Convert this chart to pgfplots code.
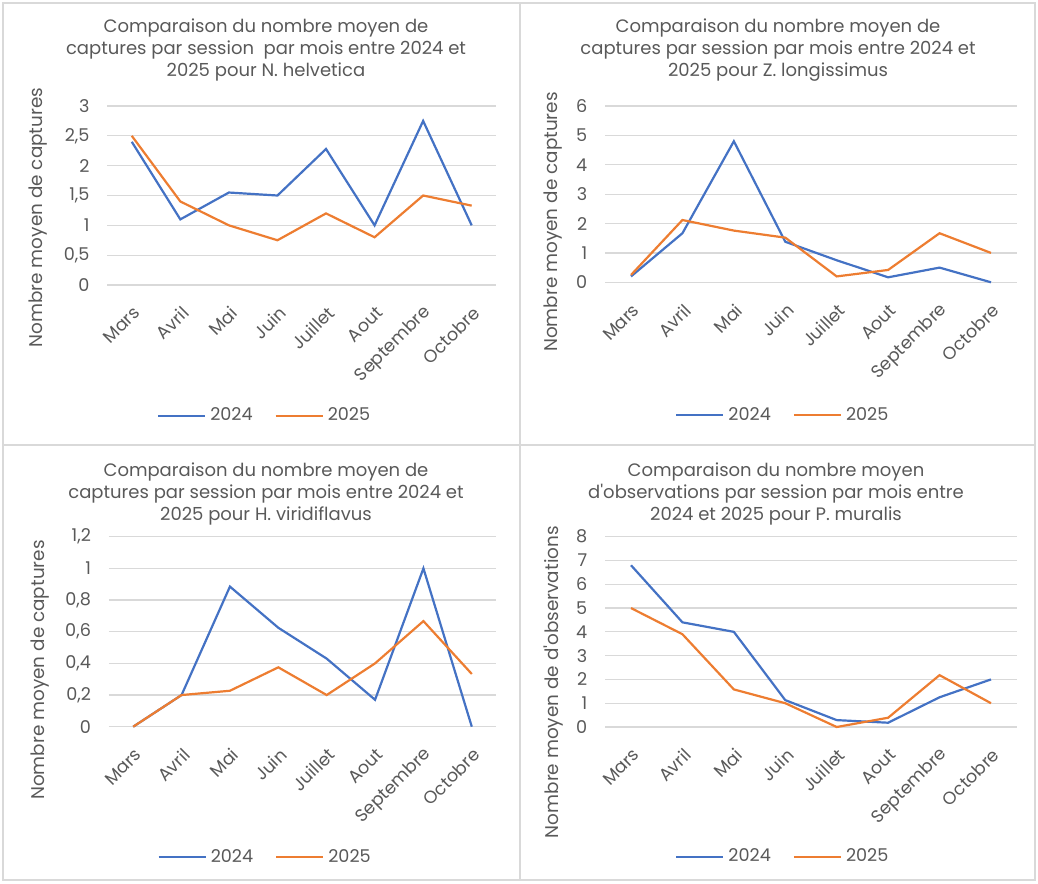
\documentclass[border=0pt]{standalone}
\usepackage{pgfplots}
\pgfplotsset{compat=1.18}
\usepackage{fontspec}
\setmainfont{Poppins}[Ligatures=TeXOff]
\definecolor{b24}{HTML}{4472C4}
\definecolor{o25}{HTML}{ED7D31}
\definecolor{gridc}{HTML}{D9D9D9}
\definecolor{txt}{HTML}{595959}
\pgfplotsset{
 panel/.style={
  scale only axis, anchor=south west, clip=false,
  xmin=-0.5, xmax=7.5, xtick={0,...,7},
  xticklabels={Mars,Avril,Mai,Juin,Juillet,Aout,Septembre,Octobre},
  ymin=0, axis line style={draw=none}, major tick length=0pt,
  ymajorgrids, grid style={gridc, line width=0.6pt},
  tick label style={font=\fontsize{8.8}{10}\selectfont, text=txt},
  /pgf/number format/assume math mode=true,
  /pgf/number format/use comma,
  yticklabel style={xshift=-5.5pt},
  xticklabel style={xshift=5pt, yshift=-10pt, rotate=45, anchor=east},
  legend columns=2,
  legend style={draw=none, fill=none, font=\fontsize{8.8}{10}\selectfont, text=txt, anchor=center,
    /tikz/every even column/.append style={column sep=9pt}},
  legend image code/.code={\draw[##1] (0pt,0pt) -- (23.5pt,0pt);},
 },
 s24/.style={b24, line width=1.1pt},
 s25/.style={o25, line width=1.1pt},
}
\newcommand{\ylab}[3]{\node[rotate=90, font=\fontsize{9.2}{11}\selectfont, text=txt] at (rel axis cs:#1,#2) {#3};}
\begin{document}
\begin{tikzpicture}
\path (0pt,0pt) rectangle (519pt,-441.5pt);
\draw[gridc, line width=0.6pt] (1.5pt,-1.5pt) rectangle (260pt,-222.5pt);
\draw[gridc, line width=0.6pt] (260pt,-1.5pt) rectangle (517.5pt,-222.5pt);
\draw[gridc, line width=0.6pt] (1.5pt,-222.5pt) rectangle (260pt,-440pt);
\draw[gridc, line width=0.6pt] (260pt,-222.5pt) rectangle (517.5pt,-440pt);
\begin{scope}[every node/.style={align=center, font=\fontsize{9}{11}\selectfont, text=txt}]
\node at (133pt,-25pt) {Comparaison du nombre moyen de\\captures par session\ \ par mois entre 2024 et\\2025 pour N. helvetica};
\node at (389pt,-25pt) {Comparaison du nombre moyen de\\captures par session par mois entre 2024 et\\2025 pour Z. longissimus};
\node at (133pt,-247pt) {Comparaison du nombre moyen de\\captures par session par mois entre 2024 et\\2025 pour H. viridiflavus};
\node at (388pt,-247pt) {Comparaison du nombre moyen\\d'observations par session par mois entre\\2024 et 2025 pour P. muralis};
\end{scope}
% Panel 1
\begin{axis}[panel, at={(53.75pt,-142.5pt)}, width=194.25pt, height=89.5pt,
  ymax=3, ytick={0,0.5,1,1.5,2,2.5,3},
  legend style={at={(0.407,-0.730)}}]
\addplot[s24] coordinates {(0,2.4) (1,1.1) (2,1.55) (3,1.5) (4,2.28) (5,1) (6,2.75) (7,1)};
\addplot[s25] coordinates {(0,2.5) (1,1.4) (2,1) (3,0.75) (4,1.2) (5,0.8) (6,1.5) (7,1.33)};
\legend{2024,2025}
\ylab{-0.179}{0.377}{Nombre moyen de captures}
\end{axis}
% Panel 2
\begin{axis}[panel, at={(302.65pt,-141.15pt)}, width=205.7pt, height=88.15pt,
  ymax=6, ytick={0,1,2,3,4,5,6},
  legend style={at={(0.434,-0.753)}}]
\addplot[s24] coordinates {(0,0.2) (1,1.67) (2,4.8) (3,1.38) (4,0.75) (5,0.17) (6,0.5) (7,0)};
\addplot[s25] coordinates {(0,0.25) (1,2.12) (2,1.76) (3,1.52) (4,0.2) (5,0.42) (6,1.67) (7,1)};
\legend{2024,2025}
\ylab{-0.127}{0.342}{Nombre moyen de captures}
\end{axis}
% Panel 3
\begin{axis}[panel, at={(54.5pt,-363.35pt)}, width=193.5pt, height=95pt,
  ymax=1.2, ytick={0,0.2,0.4,0.6,0.8,1,1.2},
  legend style={at={(0.406,-0.686)}}]
\addplot[s24] coordinates {(0,0) (1,0.2) (2,0.885) (3,0.625) (4,0.43) (5,0.17) (6,1) (7,0)};
\addplot[s25] coordinates {(0,0) (1,0.2) (2,0.227) (3,0.375) (4,0.2) (5,0.4) (6,0.667) (7,0.333)};
\legend{2024,2025}
\ylab{-0.178}{0.298}{Nombre moyen de captures}
\end{axis}
% Panel 4
\begin{axis}[panel, at={(302.65pt,-363.5pt)}, width=205.7pt, height=95.15pt,
  ymax=8, ytick={0,1,2,3,4,5,6,7,8},
  legend style={at={(0.434,-0.683)}}]
\addplot[s24] coordinates {(0,6.8) (1,4.4) (2,4) (3,1.13) (4,0.29) (5,0.18) (6,1.25) (7,2)};
\addplot[s25] coordinates {(0,5) (1,3.9) (2,1.58) (3,1) (4,0) (5,0.39) (6,2.18) (7,1)};
\legend{2024,2025}
\ylab{-0.127}{0.236}{Nombre moyen de d'observations}
\end{axis}
\end{tikzpicture}
\end{document}
